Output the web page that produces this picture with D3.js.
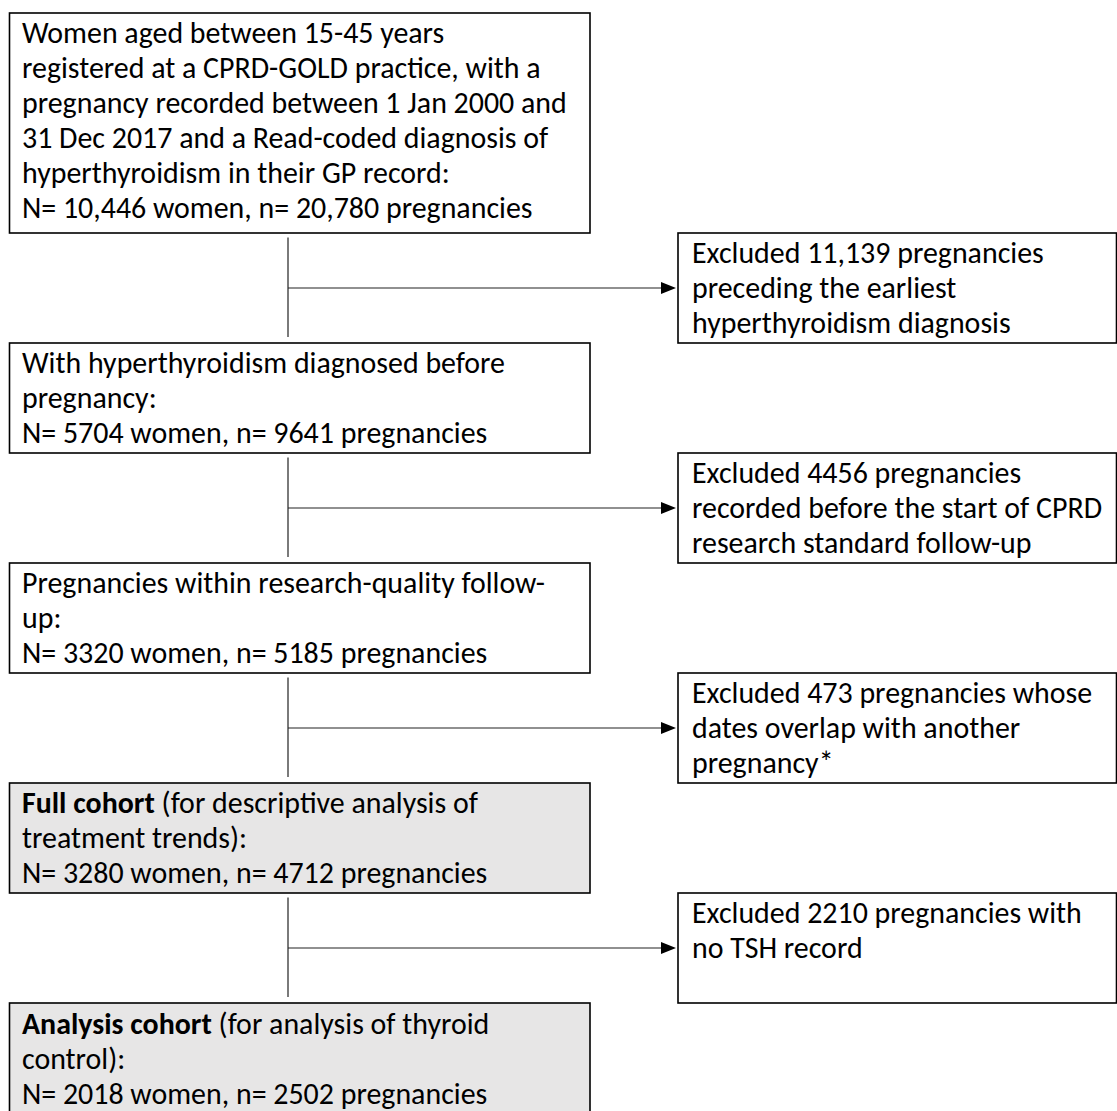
<!DOCTYPE html>
<html>
<head>
<meta charset="utf-8">
<script src="https://cdn.jsdelivr.net/npm/d3@7"></script>
<style>
  html, body { margin: 0; padding: 0; background: #ffffff; }
  svg { display: block; }
</style>
</head>
<body>
<div id="chart"></div>
<script>
// ---- data (text content of the flow diagram) ----
const mainBoxLines = [
  [["", "Women aged between 15-45 years"],
   ["", "registered at a CPRD-GOLD practice, with a"],
   ["", "pregnancy recorded between 1 Jan 2000 and"],
   ["", "31 Dec 2017 and a Read-coded diagnosis of"],
   ["", "hyperthyroidism in their GP record:"],
   ["", "N= 10,446 women, n= 20,780 pregnancies"]],
  [["", "With hyperthyroidism diagnosed before"],
   ["", "pregnancy:"],
   ["", "N= 5704 women, n= 9641 pregnancies"]],
  [["", "Pregnancies within research-quality follow-"],
   ["", "up:"],
   ["", "N= 3320 women, n= 5185 pregnancies"]],
  [["Full cohort", " (for descriptive analysis of"],
   ["", "treatment trends):"],
   ["", "N= 3280 women, n= 4712 pregnancies"]],
  [["Analysis cohort", " (for analysis of thyroid"],
   ["", "control):"],
   ["", "N= 2018 women, n= 2502 pregnancies"]]
];
const mainBoxShaded = [false, false, false, true, true];
const mainBoxRows = [[0, 2], [3, 4], [5, 6], [7, 8], [9, 10]];

const excludedLines = [
  ["Excluded 11,139 pregnancies", "preceding the earliest", "hyperthyroidism diagnosis"],
  ["Excluded 4456 pregnancies", "recorded before the start of CPRD", "research standard follow-up"],
  ["Excluded 473 pregnancies whose", "dates overlap with another", "pregnancy*"],
  ["Excluded 2210 pregnancies with", "no TSH record"]
];
const excludedRows = [[2, 3], [4, 5], [6, 7], [8, 9]];

// ---- layout ----
const W = 1117, H = 1111;
const y = d3.scaleLinear().domain([0, 9]).range([13, 1003]);
const leftX0 = 9.5, leftX1 = 590, rightX0 = 678, rightX1 = 1116.5;
const connX = 288;
const lineH = 35;
const fontFamily = "Carlito, Calibri, 'Liberation Sans', Arial, sans-serif";

const svg = d3.select("#chart").append("svg")
  .attr("width", W).attr("height", H)
  .attr("viewBox", `0 0 ${W} ${H}`);

// fit font size so reference line width matches
const probe = svg.append("text").attr("font-family", fontFamily).attr("font-size", 100)
  .text("pregnancy recorded between 1 Jan 2000 and");
const probeW = probe.node().getComputedTextLength();
probe.remove();
const fontSize = 100 * 545 / probeW;

// main boxes
const mg = svg.append("g");
mainBoxLines.forEach((lines, i) => {
  const [r0, r1] = mainBoxRows[i];
  const top = y(r0), bot = y(r1);
  mg.append("rect")
    .attr("x", leftX0).attr("y", top)
    .attr("width", leftX1 - leftX0).attr("height", bot - top)
    .attr("fill", mainBoxShaded[i] ? "#e7e6e6" : "#ffffff")
    .attr("stroke", "#000").attr("stroke-width", 1.6);
  const t = mg.append("text")
    .attr("font-family", fontFamily).attr("font-size", fontSize).attr("fill", "#000");
  lines.forEach((ln, j) => {
    const base = top + (i === 4 ? 31 : 30) + j * lineH;
    if (ln[0]) {
      t.append("tspan").attr("x", leftX0 + 12.5).attr("y", base)
        .attr("font-weight", "bold").text(ln[0]);
      t.append("tspan").text(ln[1]);
    } else {
      t.append("tspan").attr("x", leftX0 + 12.5).attr("y", base).text(ln[1]);
    }
  });
});

// excluded boxes
const eg = svg.append("g");
excludedLines.forEach((lines, i) => {
  const [r0, r1] = excludedRows[i];
  const top = y(r0), bot = y(r1);
  eg.append("rect")
    .attr("x", rightX0).attr("y", top)
    .attr("width", rightX1 - rightX0).attr("height", bot - top)
    .attr("fill", "#ffffff")
    .attr("stroke", "#000").attr("stroke-width", 1.6);
  const t = eg.append("text")
    .attr("font-family", fontFamily).attr("font-size", fontSize).attr("fill", "#000");
  lines.forEach((ln, j) => {
    t.append("tspan").attr("x", rightX0 + 14).attr("y", top + 30 + j * lineH).text(ln);
  });
});

// connectors + arrows
const cg = svg.append("g");
excludedRows.forEach((rr, i) => {
  const top = y(mainBoxRows[i][1]);
  const bot = y(mainBoxRows[i + 1][0]);
  cg.append("line")
    .attr("x1", connX).attr("x2", connX)
    .attr("y1", top + 4.5).attr("y2", bot - 6)
    .attr("stroke", "#595959").attr("stroke-width", 1.6);
  const ay = (y(rr[0]) + y(rr[1])) / 2;
  cg.append("line")
    .attr("x1", connX).attr("x2", rightX0 - 14)
    .attr("y1", ay).attr("y2", ay)
    .attr("stroke", "#222").attr("stroke-width", 1.1);
  cg.append("path")
    .attr("d", `M${rightX0 - 2},${ay} L${rightX0 - 17},${ay - 6} L${rightX0 - 17},${ay + 6} Z`)
    .attr("fill", "#000");
});
</script>
</body>
</html>
